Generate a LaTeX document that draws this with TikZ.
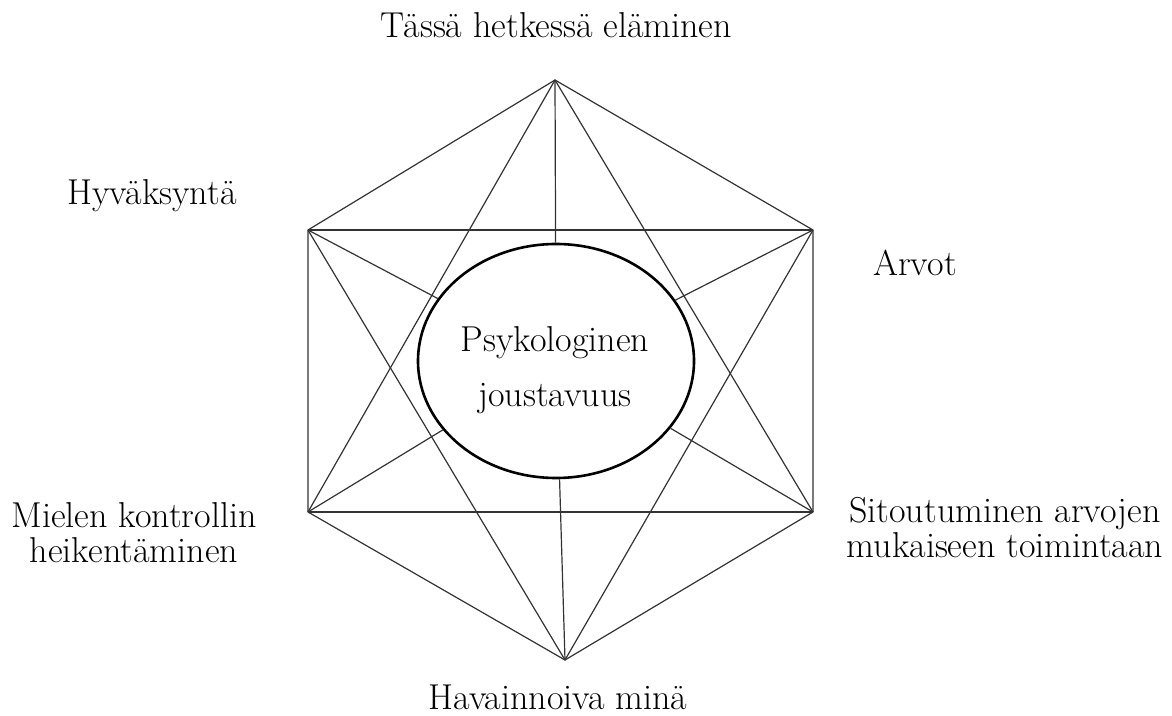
\documentclass[tikz,border=0pt]{standalone}
\usepackage{tikz}
\usetikzlibrary{shapes.geometric}
\tikzstyle{facet} = [align=center, inner sep=0pt, font=\fontsize{18}{17.5}\selectfont]
\tikzstyle{hub} = [ellipse, draw=black, line width=1.3pt, fill=white, minimum width=138pt, minimum height=117pt, inner sep=0pt]
\tikzstyle{hubtext} = [align=center, inner sep=0pt, font=\fontsize{18}{27.5}\selectfont]
\tikzstyle{hexline} = [draw=black!80, line width=0.6pt, line join=round]
\begin{document}
\begin{tikzpicture}[x=0.5pt, y=-0.5pt]
      \useasboundingbox (0,0) rectangle (1172,716);
      % Corners
      \coordinate (top) at (555,80);
      \coordinate (upleft) at (308,230);
      \coordinate (upright) at (813,230);
      \coordinate (lowleft) at (308,512);
      \coordinate (lowright) at (813,512);
      \coordinate (bottom) at (565,660);
      % Nodes
      \node (flex) [hub] at (556,361) {};
      \node (flextext) [hubtext] at (555,370) {Psykologinen\\joustavuus};
      \node (now) [facet] at (556,25) {Tässä hetkessä eläminen};
      \node (accept) [facet] at (152,196) {Hyväksyntä};
      \node (values) [facet] at (915,263) {Arvot};
      \node (defusion) [facet] at (134,533) {Mielen kontrollin\\heikentäminen};
      \node (commit) [facet] at (1005,528) {Sitoutuminen arvojen\\mukaiseen toimintaan};
      \node (self) [facet] at (558,697) {Havainnoiva minä};
      % Lines
      \draw [hexline] (top) -- (upright) -- (lowright) -- (bottom) -- (lowleft) -- (upleft) -- cycle;
      \draw [hexline] (upleft) -- (upright);
      \draw [hexline] (lowleft) -- (lowright);
      \draw [hexline] (top) -- (lowleft);
      \draw [hexline] (top) -- (lowright);
      \draw [hexline] (bottom) -- (upleft);
      \draw [hexline] (bottom) -- (upright);
      \draw [hexline] (top) -- (flex);
      \draw [hexline] (upleft) -- (flex);
      \draw [hexline] (upright) -- (flex);
      \draw [hexline] (lowleft) -- (flex);
      \draw [hexline] (lowright) -- (flex);
      \draw [hexline] (bottom) -- (flex);
    \end{tikzpicture}
\end{document}
